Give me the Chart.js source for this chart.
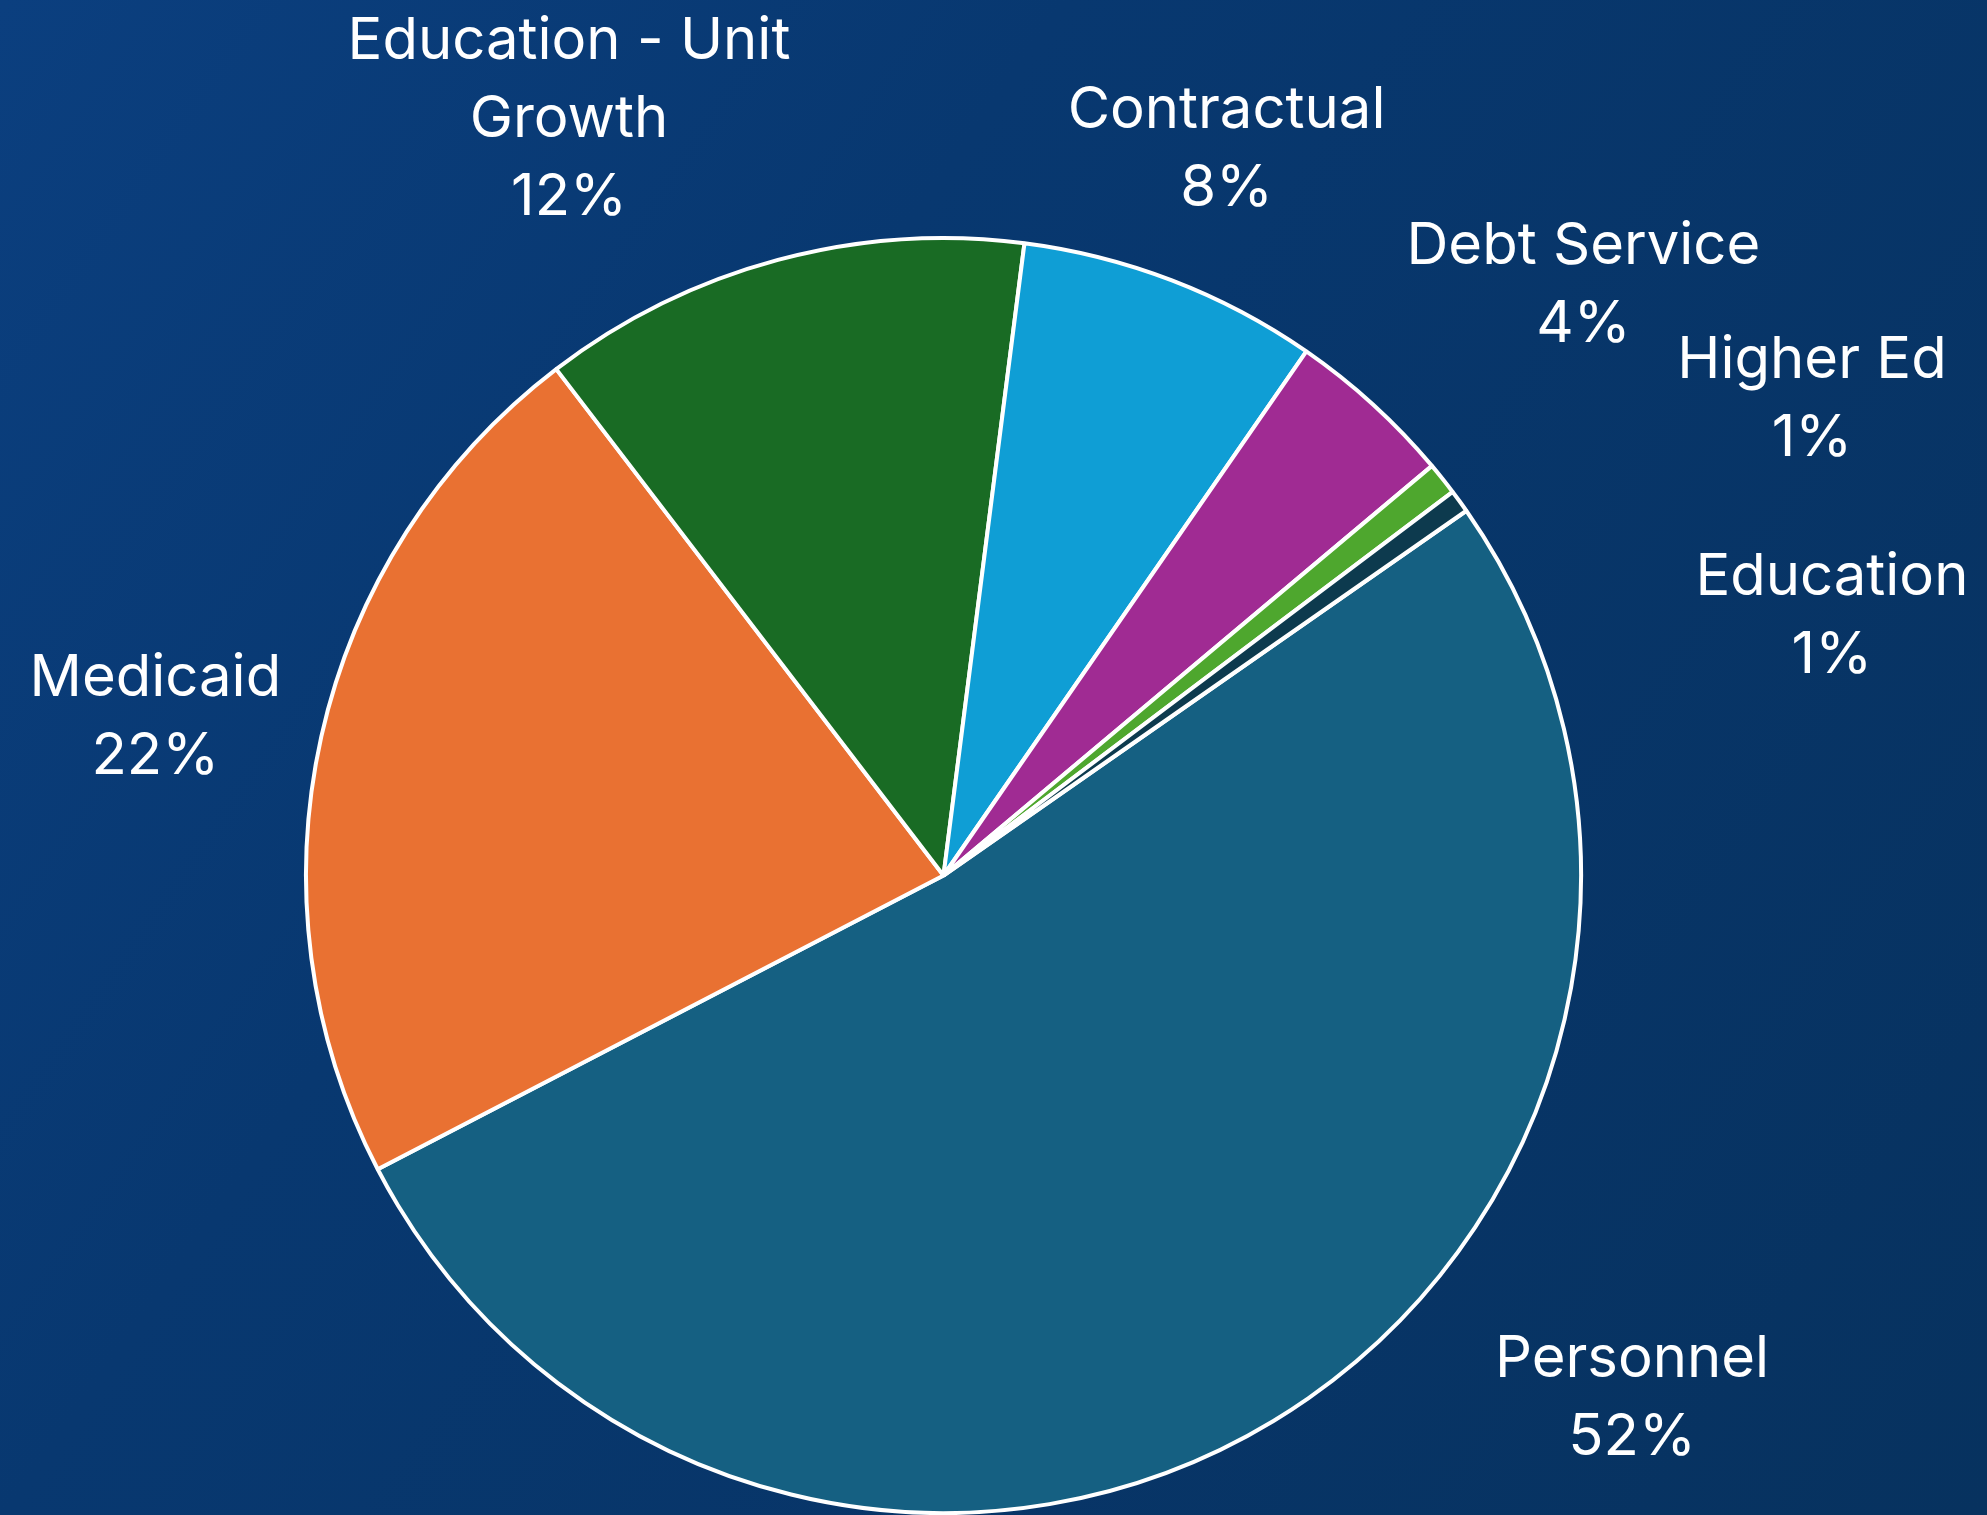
<!DOCTYPE html>
<html>
<head>
<meta charset="utf-8">
<script src="https://cdn.jsdelivr.net/npm/chart.js@4.4.1/dist/chart.umd.min.js"></script>
<style>
  html, body { margin: 0; padding: 0; }
  body {
    width: 1987px;
    height: 1515px;
    overflow: hidden;
    background: linear-gradient(125deg, #0b3f7f 0%, #083870 35%, #07325f 100%);
  }
  #pie { display: block; }
</style>
</head>
<body>
<canvas id="pie" width="1987" height="1515"></canvas>
<script>
// slice data (share of total, %)
const sliceLabels = ['Personnel', 'Medicaid', 'Education - Unit Growth', 'Contractual', 'Debt Service', 'Higher Ed', 'Education'];
const sliceValues = [52.0, 22.2, 12.4, 7.6, 4.25, 0.83, 0.58];

const sliceColors = ['#156082', '#e97132', '#196b24', '#0f9ed5', '#a02b93', '#4ea72e', '#0d3a4e'];

// where each label sits: turn (deg) off the slice middle, reach in radii
const labelSpots = [
    { turn: -21.8, reach: 1.353 },
    { turn: -1.0, reach: 1.262 },
    { turn: -11.2, reach: 1.328 },
    { turn: 0.2, reach: 1.228 },
    { turn: 4.8, reach: 1.369 },
    { turn: 9.6, reach: 1.556 },
    { turn: 19.5, reach: 1.453 }
];

function wrapText(ctx, text, maxWidth) {
    const words = text.split(' ');
    const lines = [];
    let line = '';
    words.forEach(w => {
        const test = line ? line + ' ' + w : w;
        if (ctx.measureText(test).width > maxWidth && line) {
            lines.push(line);
            line = w;
        } else {
            line = test;
        }
    });
    if (line) lines.push(line);
    return lines;
}

const outsideLabels = {
    id: 'outsideLabels',
    afterDatasetsDraw(chart, args, opts) {
        const ctx = chart.ctx;
        const meta = chart.getDatasetMeta(0);
        const values = chart.data.datasets[0].data;
        const total = values.reduce((a, b) => a + b, 0);
        ctx.save();
        ctx.fillStyle = opts.color;
        ctx.font = opts.font;
        ctx.textAlign = 'center';
        ctx.textBaseline = 'alphabetic';
        meta.data.forEach((arc, i) => {
            const spot = opts.spots[i];
            const ang = (arc.startAngle + arc.endAngle) / 2 + spot.turn * Math.PI / 180;
            const r = arc.outerRadius * spot.reach;
            const x = arc.x + Math.cos(ang) * r;
            const y = arc.y + Math.sin(ang) * r;
            const lines = wrapText(ctx, chart.data.labels[i], opts.wrapWidth);
            lines.push(Math.round(values[i] / total * 100) + '%');
            const top = y - (lines.length - 1) * opts.lineHeight / 2 + opts.capHalf;
            lines.forEach((t, k) => ctx.fillText(t, x, top + k * opts.lineHeight));
        });
        ctx.restore();
    }
};

new Chart(document.getElementById('pie'), {
    type: 'pie',
    data: {
        labels: sliceLabels,
        datasets: [{
            data: sliceValues,
            backgroundColor: sliceColors,
            borderColor: '#ffffff',
            borderWidth: 4
        }]
    },
    options: {
        responsive: false,
        devicePixelRatio: 1,
        animation: false,
        rotation: 55.1,
        layout: {
            padding: { top: 236, left: 0, right: 100, bottom: -5 }
        },
        plugins: {
            legend: { display: false },
            tooltip: { enabled: false },
            outsideLabels: {
                color: '#ffffff',
                font: '58px Inter, "Open Sans", sans-serif',
                lineHeight: 78,
                capHalf: 21,
                wrapWidth: 460,
                spots: labelSpots
            }
        }
    },
    plugins: [outsideLabels]
});
</script>
</body>
</html>
